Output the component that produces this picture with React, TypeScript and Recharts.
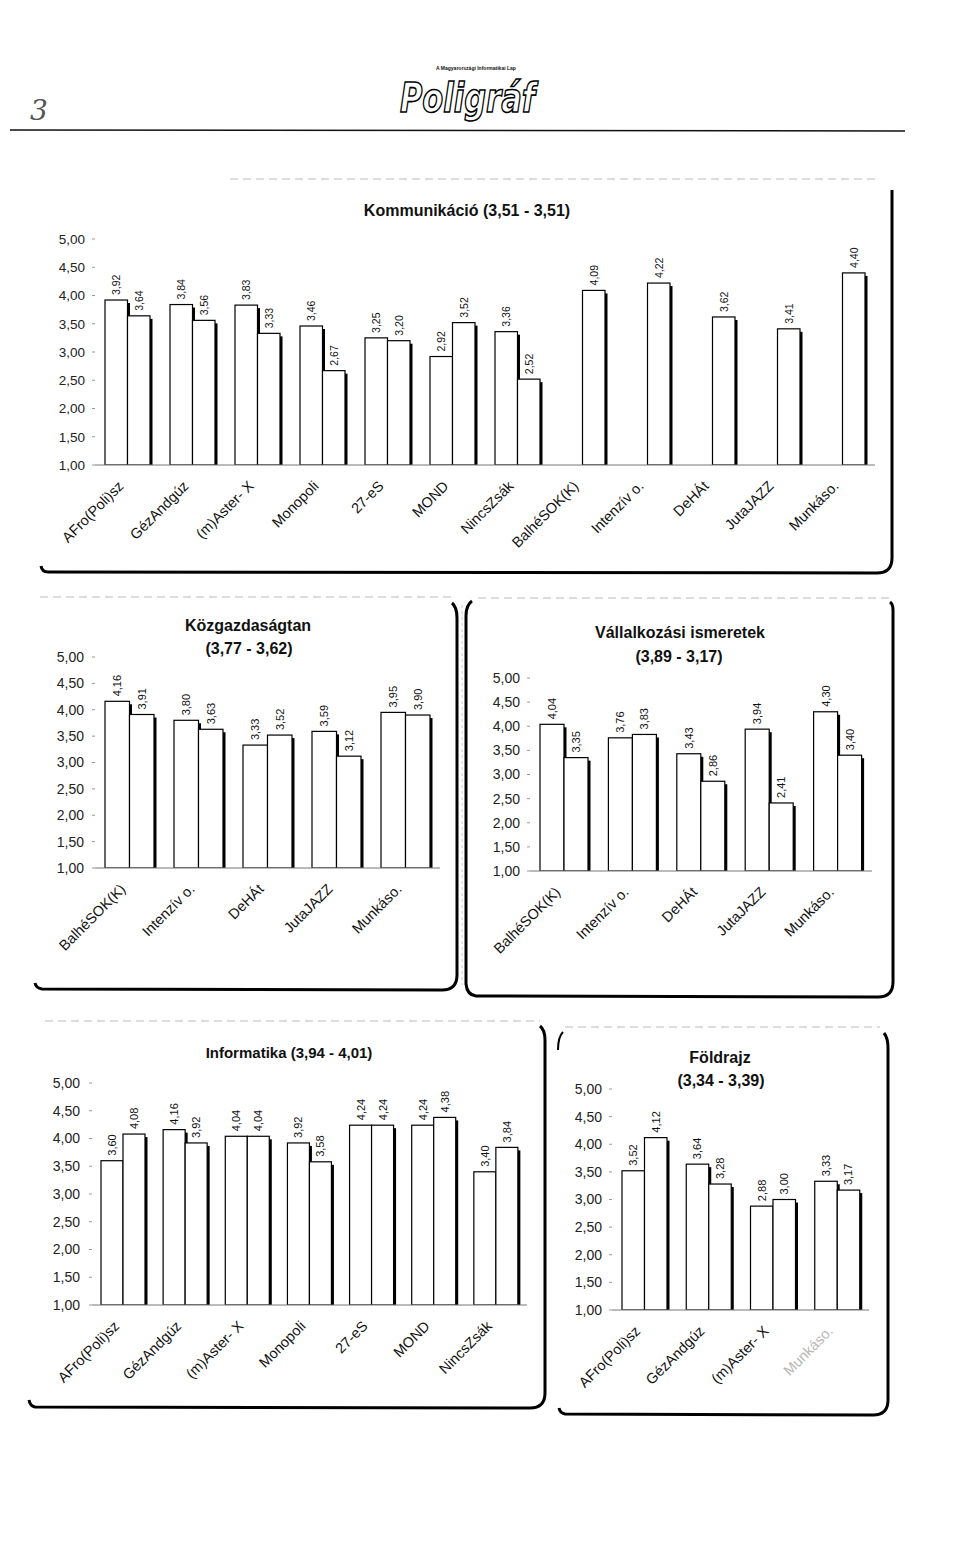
import React from 'react';
import { BarChart, Bar, XAxis, YAxis, LabelList } from 'recharts';

// ---------- DATA ----------
const komCategories = ['AFro(Poli)sz', 'GézAndgúz', '(m)Aster- X', 'Monopoli', '27-eS', 'MOND', 'NincsZsák', 'BalhéSOK(K)', 'Intenzív o.', 'DeHÁt', 'JutaJAZZ', 'Munkáso.'];
const komA: (number | null)[] = [3.92, 3.84, 3.83, 3.46, 3.25, 2.92, 3.36, null, null, null, null, null];
const komB: (number | null)[] = [3.64, 3.56, 3.33, 2.67, 3.20, 3.52, 2.52, 4.09, 4.22, 3.62, 3.41, 4.40];

const kozCategories = ['BalhéSOK(K)', 'Intenzív o.', 'DeHÁt', 'JutaJAZZ', 'Munkáso.'];
const kozA = [4.16, 3.80, 3.33, 3.59, 3.95];
const kozB = [3.91, 3.63, 3.52, 3.12, 3.90];

const valCategories = ['BalhéSOK(K)', 'Intenzív o.', 'DeHÁt', 'JutaJAZZ', 'Munkáso.'];
const valA = [4.04, 3.76, 3.43, 3.94, 4.30];
const valB = [3.35, 3.83, 2.86, 2.41, 3.40];

const infCategories = ['AFro(Poli)sz', 'GézAndgúz', '(m)Aster- X', 'Monopoli', '27-eS', 'MOND', 'NincsZsák'];
const infA = [3.60, 4.16, 4.04, 3.92, 4.24, 4.24, 3.40];
const infB = [4.08, 3.92, 4.04, 3.58, 4.24, 4.38, 3.84];

const folCategories = ['AFro(Poli)sz', 'GézAndgúz', '(m)Aster- X', 'Munkáso.'];
const folA = [3.52, 3.64, 2.88, 3.33];
const folB = [4.12, 3.28, 3.00, 3.17];

const yTicks = [1, 1.5, 2, 2.5, 3, 3.5, 4, 4.5, 5];

const FONT = '"Liberation Sans", Arial, sans-serif';
const fmt = (v: number) => v.toFixed(2).replace('.', ',');

// ---------- SHAPES ----------
const BarShape = (props: any) => {
  const { x, y, width, height } = props;
  if (x == null || y == null || !height || height <= 0) return null;
  return (
    <g>
      <rect x={x + width - 0.5} y={y + 3} width={3} height={height - 3} fill="#000" />
      <rect x={x} y={y} width={width} height={height} fill="#fff" stroke="#000" strokeWidth={1.2} />
    </g>
  );
};

const makeLabel = (fontSize: number) => (props: any) => {
  const { x, y, width, value } = props;
  if (value == null || x == null) return null;
  const cx = x + width / 2 + fontSize * 0.36;
  const ty = y - 5;
  return (
    <text x={cx} y={ty} transform={`rotate(-90 ${cx} ${ty})`} fontSize={fontSize} fontFamily={FONT} fill="#111" textAnchor="start">
      {fmt(value)}
    </text>
  );
};

const makeTick = (fontSize: number, fadedLabel?: string) => (props: any) => {
  const { x, y, payload } = props;
  const faded = fadedLabel && payload.value === fadedLabel;
  return (
    <g transform={`translate(${x - 3},${y + 14})`}>
      <text transform="rotate(-45)" textAnchor="end" fontSize={fontSize} fontFamily={FONT} fill={faded ? '#b8b8b8' : '#111'}>
        {payload.value}
      </text>
    </g>
  );
};

type ChartProps = {
  categories: string[];
  a: (number | null)[];
  b: (number | null)[];
  plotLeft: number;
  plotRight: number;
  plotTop: number;
  plotBottom: number;
  barSize: number;
  tickMargin: number;
  labelFont: number;
  xFont: number;
  yFont: number;
  fadedLabel?: string;
};

const PairChart = (p: ChartProps) => {
  const yW = 60;
  const top = p.plotTop - 45;
  const left = p.plotLeft - yW;
  const xH = 110;
  const width = p.plotRight + 4 - left;
  const height = p.plotBottom - top + xH;
  const data = p.categories.map((name, i) => ({ name, a: p.a[i], b: p.b[i] }));
  return (
    <div style={{ position: 'absolute', left, top, width, height }}>
      <BarChart width={width} height={height} data={data} margin={{ top: 45, right: 4, bottom: 0, left: 0 }} barGap={0}>
        <XAxis
          dataKey="name"
          interval={0}
          height={xH}
          tickLine={false}
          axisLine={{ stroke: '#777', strokeWidth: 1 }}
          tick={makeTick(p.xFont, p.fadedLabel)}
        />
        <YAxis
          domain={[1, 5]}
          ticks={yTicks}
          interval={0}
          width={yW}
          axisLine={false}
          tickSize={3}
          tickMargin={p.tickMargin}
          tickLine={{ stroke: '#999' }}
          tick={{ fontSize: p.yFont, fill: '#222', fontFamily: FONT }}
          tickFormatter={(v: number) => fmt(v)}
          allowDataOverflow
        />
        <Bar dataKey="a" barSize={p.barSize} isAnimationActive={false} shape={<BarShape />}>
          <LabelList dataKey="a" content={makeLabel(p.labelFont)} />
        </Bar>
        <Bar dataKey="b" barSize={p.barSize} isAnimationActive={false} shape={<BarShape />}>
          <LabelList dataKey="b" content={makeLabel(p.labelFont)} />
        </Bar>
      </BarChart>
    </div>
  );
};

const Decorations = () => (
  <svg width={960} height={1561} style={{ position: 'absolute', left: 0, top: 0 }}>
    {/* header */}
    <text x={30} y={120} fontSize={28} fontFamily='"DejaVu Serif", serif' fontStyle="italic" fontWeight={300} fill="#555">3</text>
    <text x={436} y={70} fontSize={5} fontFamily={FONT} fontWeight="bold" fill="#111">A Magyarországi Informatikai Lap</text>
    <text x={400} y={112} fontSize={40} fontFamily='"DejaVu Sans", sans-serif' fontWeight="bold" fontStyle="italic" fill="#fff" stroke="#000" strokeWidth={1.6} textLength={135} lengthAdjust="spacingAndGlyphs">Poligráf</text>
    <line x1={10} y1={130} x2={905} y2={131} stroke="#111" strokeWidth={1.5} />

    {/* box 1 */}
    <line x1={230} y1={179} x2={880} y2={179} stroke="#bbb" strokeWidth={1} strokeDasharray="8 5" />
    <path d="M 892 190 L 892 558 Q 892 573 877 573 L 48 572 Q 42 572 41 566" fill="none" stroke="#000" strokeWidth={3} />
    {/* box 2 */}
    <line x1={40} y1={597} x2={452} y2={597} stroke="#bbb" strokeWidth={1} strokeDasharray="8 5" />
    <path d="M 452 603 Q 457 607 457 618 L 457 975 Q 457 990 442 990 L 42 989 Q 36 988 35 983" fill="none" stroke="#000" strokeWidth={3} />
    <line x1={462} y1={605} x2={462} y2={985} stroke="#ccc" strokeWidth={1} strokeDasharray="3 3" />
    {/* box 3 */}
    <line x1={478} y1={598} x2={890} y2={598} stroke="#bbb" strokeWidth={1} strokeDasharray="8 5" />
    <path d="M 472 601 Q 466 605 466 616 L 466 984 Q 467 995 476 996 L 878 997 Q 893 997 893 982 L 893 610 Q 893 604 890 602" fill="none" stroke="#000" strokeWidth={3} />
    {/* box 4 */}
    <line x1={45} y1={1021} x2={540} y2={1021} stroke="#bbb" strokeWidth={1} strokeDasharray="8 5" />
    <path d="M 540 1026 Q 545 1030 545 1040 L 545 1393 Q 545 1408 530 1408 L 35 1407 Q 30 1406 29 1400" fill="none" stroke="#000" strokeWidth={3} />
    {/* box 5 */}
    <line x1={565} y1={1027} x2={880} y2={1027} stroke="#bbb" strokeWidth={1} strokeDasharray="8 5" />
    <path d="M 563 1032 Q 558 1037 558 1050" fill="none" stroke="#000" strokeWidth={2} />
    <path d="M 884 1033 Q 888 1038 888 1048 L 888 1400 Q 888 1415 873 1415 L 565 1414 Q 560 1413 559 1408" fill="none" stroke="#000" strokeWidth={3} />

    {/* titles */}
    <text x={467} y={216} textAnchor="middle" fontSize={16} fontWeight="bold" fontFamily={FONT} fill="#111">Kommunikáció (3,51 - 3,51)</text>
    <text x={248} y={631} textAnchor="middle" fontSize={16} fontWeight="bold" fontFamily={FONT} fill="#111">Közgazdaságtan</text>
    <text x={249} y={654} textAnchor="middle" fontSize={16} fontWeight="bold" fontFamily={FONT} fill="#111">(3,77 - 3,62)</text>
    <text x={680} y={638} textAnchor="middle" fontSize={16} fontWeight="bold" fontFamily={FONT} fill="#111">Vállalkozási ismeretek</text>
    <text x={679} y={662} textAnchor="middle" fontSize={16} fontWeight="bold" fontFamily={FONT} fill="#111">(3,89 - 3,17)</text>
    <text x={289} y={1058} textAnchor="middle" fontSize={15} fontWeight="bold" fontFamily={FONT} fill="#111">Informatika (3,94 - 4,01)</text>
    <text x={720} y={1063} textAnchor="middle" fontSize={16} fontWeight="bold" fontFamily={FONT} fill="#111">Földrajz</text>
    <text x={721} y={1086} textAnchor="middle" fontSize={16} fontWeight="bold" fontFamily={FONT} fill="#111">(3,34 - 3,39)</text>
  </svg>
);

export default function App() {
  return (
    <div style={{ position: 'absolute', left: 0, top: 0, width: 960, height: 1561, background: '#fff', overflow: 'hidden' }}>
      <Decorations />
      <PairChart categories={komCategories} a={komA} b={komB} plotLeft={95} plotRight={875} plotTop={239} plotBottom={465} barSize={22.5} tickMargin={7} labelFont={10.5} xFont={14.5} yFont={13.5} />
      <PairChart categories={kozCategories} a={kozA} b={kozB} plotLeft={95} plotRight={440} plotTop={657} plotBottom={868} barSize={24.5} tickMargin={8} labelFont={11} xFont={14.5} yFont={14} />
      <PairChart categories={valCategories} a={valA} b={valB} plotLeft={530} plotRight={872} plotTop={678} plotBottom={871} barSize={24} tickMargin={7} labelFont={11} xFont={14.5} yFont={14} />
      <PairChart categories={infCategories} a={infA} b={infB} plotLeft={92} plotRight={527} plotTop={1083} plotBottom={1305} barSize={22} tickMargin={9} labelFont={11} xFont={14.5} yFont={14} />
      <PairChart categories={folCategories} a={folA} b={folB} plotLeft={612} plotRight={869} plotTop={1089} plotBottom={1310} barSize={22.5} tickMargin={7} labelFont={11} xFont={14.5} yFont={14} fadedLabel="Munkáso." />
    </div>
  );
}
